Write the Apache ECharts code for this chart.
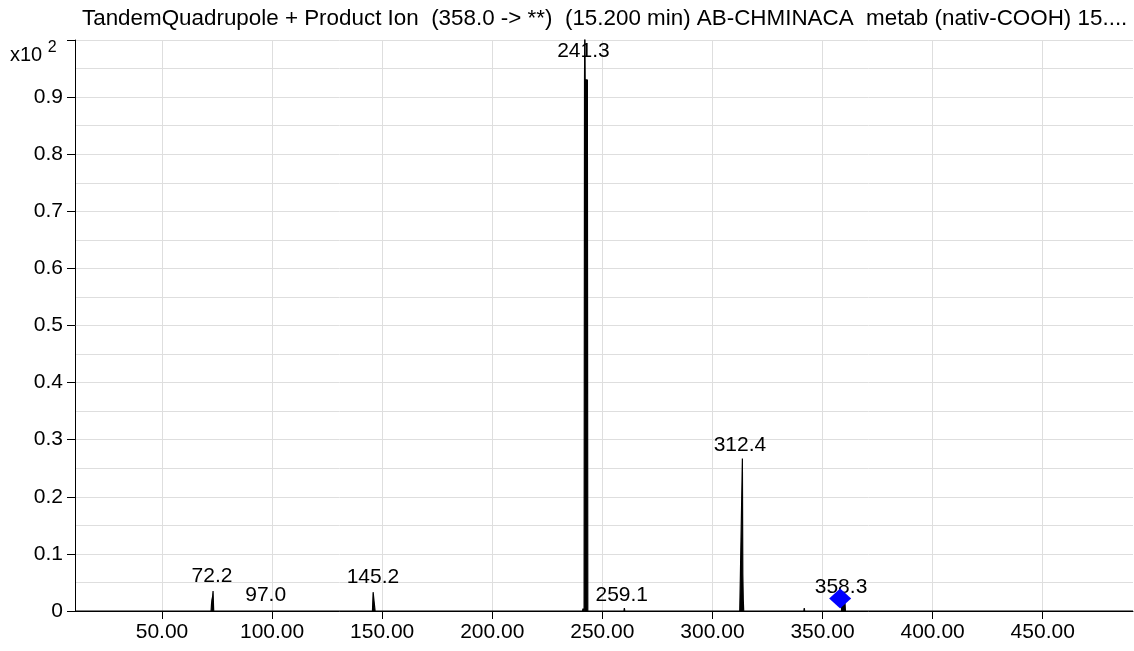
<!DOCTYPE html>
<html>
	<head>
		<meta charset="utf-8">
		<title>Product Ion spectrum</title>
		<script src="https://cdn.jsdelivr.net/npm/echarts@6/dist/echarts.min.js"></script>
		<style>
			html, body { margin: 0; padding: 0; background: #fff; }
		</style>
	</head>
	<body>
		<div id="main" style="width: 1134px;height:651px;"></div>
		<script>
		// profile points of the spectrum (m/z, intensity x10^2)
		var spectrumMz = [10.5, 72.3, 72.5, 72.7, 73.0, 73.2, 73.4, 73.5,
			145.6, 145.9, 146.1, 146.3, 146.6, 146.8,
			241.0, 241.2, 241.6, 241.7, 241.9, 242.05, 242.2, 243.2, 243.4,
			259.8, 260.0, 260.2,
			312.4, 312.7, 313.4, 313.6, 313.8, 314.0, 314.2,
			341.5, 341.7, 341.9,
			358.6, 358.8, 360.2, 360.4, 491];
		var spectrumIntensity = [0, 0, 0.012, 0.02, 0.025, 0.035, 0.01, 0,
			0, 0.033, 0.03, 0.018, 0.015, 0,
			0, 0.004, 0.004, 0, 0.93, 1.05, 0.93, 0.93, 0,
			0, 0.005, 0,
			0, 0.064, 0.064, 0.267, 0.064, 0.02, 0,
			0, 0.005, 0,
			0, 0.014, 0.014, 0, 0];

		// peak annotations
		var labelText = ['72.2', '97.0', '145.2', '241.3', '259.1', '312.4', '358.3'];
		var labelMz = [72.7, 97.1, 145.8, 241.4, 258.8, 312.5, 358.4];
		var labelAt = [0.0385, 0.0065, 0.037, 0.958, 0.0065, 0.269, 0.02];

		// precursor marker
		var precursorMz = [358.0];
		var precursorAt = [0.0217];

		var xTicks = [50, 100, 150, 200, 250, 300, 350, 400, 450];

		var font = "'Liberation Sans', Arial, sans-serif";

		var lineData = [];
		for (var i = 0; i < spectrumMz.length; i++) {
			lineData.push([spectrumMz[i], spectrumIntensity[i]]);
		}
		var labelData = [];
		for (var j = 0; j < labelText.length; j++) {
			labelData.push({ name: labelText[j], value: [labelMz[j], labelAt[j]] });
		}
		var precursorData = [];
		for (var k = 0; k < precursorMz.length; k++) {
			precursorData.push([precursorMz[k], precursorAt[k]]);
		}

		var myChart = echarts.init(document.getElementById('main'));
		myChart.setOption({
			animation: false,
			title: {
				text: 'TandemQuadrupole + Product Ion  (358.0 -> **)  (15.200 min) AB-CHMINACA  metab (nativ-COOH) 15....',
				left: 77,
				top: 3,
				textStyle: { fontFamily: font, fontSize: 22.4, fontWeight: 'normal', color: '#000' }
			},
			graphic: [{
				type: 'text',
				left: 10,
				top: 40,
				style: {
					text: '{a|x10 }{b|2}',
					rich: {
						a: { fontFamily: font, fontSize: 20, fill: '#000', verticalAlign: 'bottom' },
						b: { fontFamily: font, fontSize: 16, fill: '#000', padding: [0, 0, 9, 0] }
					}
				}
			}],
			grid: { left: 75, right: 1, top: 40, bottom: 40 },
			xAxis: {
				type: 'value',
				min: 10.5,
				max: 491,
				axisLine: { lineStyle: { color: '#000', width: 1 } },
				axisTick: { customValues: xTicks, length: 8, lineStyle: { color: '#000' } },
				axisLabel: {
					customValues: xTicks,
					color: '#000', fontFamily: font, fontSize: 21, margin: 11,
					formatter: function (v) { return v.toFixed(2); }
				},
				splitLine: { show: true, lineStyle: { color: '#dedede' } }
			},
			yAxis: {
				type: 'value',
				min: 0,
				max: 1,
				interval: 0.1,
				axisLine: { show: true, lineStyle: { color: '#000', width: 1 } },
				axisTick: { show: true, length: 8, lineStyle: { color: '#000' } },
				axisLabel: {
					color: '#000', fontFamily: font, fontSize: 21, margin: 12,
					formatter: function (v) {
						if (v === 0) return '0';
						if (v >= 0.999) return '';
						return v.toFixed(1);
					}
				},
				splitLine: { show: true, lineStyle: { color: '#dedede' } },
				minorTick: { show: false, splitNumber: 2 },
				minorSplitLine: { show: true, lineStyle: { color: '#dedede' } }
			},
			series: [
				{
					type: 'line',
					data: lineData,
					symbol: 'none',
					clip: true,
					lineStyle: { color: '#000', width: 1.2 },
					areaStyle: { color: '#000', opacity: 1 },
					z: 3
				},
				{
					type: 'scatter',
					data: labelData,
					symbolSize: 0,
					itemStyle: { opacity: 1 },
					label: {
						show: true,
						position: 'top',
						distance: 2,
						formatter: '{b}',
						color: '#000',
						opacity: 1,
						fontFamily: font,
						fontSize: 21
					},
					z: 4
				},
				{
					type: 'scatter',
					data: precursorData,
					symbol: 'diamond',
					symbolSize: [22, 20],
					itemStyle: { color: '#0000ff', opacity: 1 },
					z: 5
				}
			]
		});
		</script>
	</body>
</html>
